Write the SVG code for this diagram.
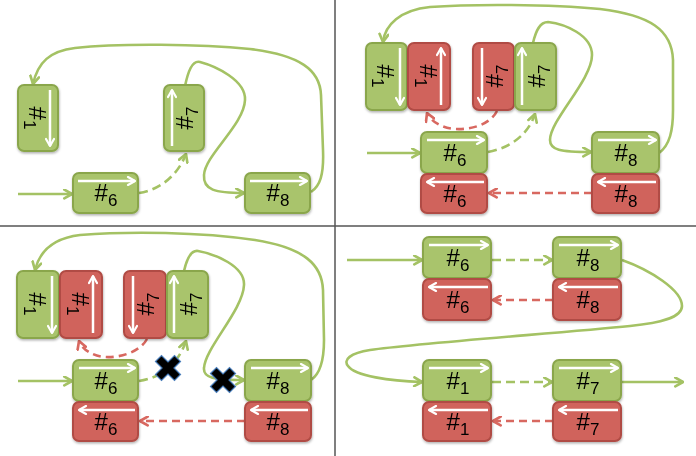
<svg xmlns="http://www.w3.org/2000/svg" width="696" height="456" viewBox="0 0 696 456">
<style>
.g{fill:#a9c46c;stroke:#8aa64c;stroke-width:2}
.r{fill:#d0635b;stroke:#b04b44;stroke-width:2}
.t{font-family:"Liberation Sans",Arial,sans-serif;font-size:24px;fill:#000;text-anchor:middle}
.s{font-size:17px}
.wa{stroke:#fff;stroke-width:2.5;fill:none;marker-end:url(#mw)}
.cg{fill:none;stroke:#a4c264;stroke-width:2.6;marker-end:url(#mg)}
.dg{fill:none;stroke:#a4c264;stroke-width:2.6;stroke-dasharray:9 5;marker-end:url(#mg)}
.dr{fill:none;stroke:#d86860;stroke-width:2.6;stroke-dasharray:8 5;marker-end:url(#mr)}
.box{filter:url(#sh)}
.x{fill:#000;stroke:#4a7ebb;stroke-width:1.2}
</style>
<defs>
<filter id="sh" x="-20%" y="-20%" width="140%" height="150%"><feDropShadow dx="0.5" dy="1.5" stdDeviation="1.2" flood-opacity="0.3"/></filter>
<marker id="mw" viewBox="0 0 10 10" refX="9" refY="5" markerWidth="10" markerHeight="10" markerUnits="userSpaceOnUse" orient="auto"><path d="M2,1 L9,5 L2,9" fill="none" stroke="#fff" stroke-width="2.2" stroke-linecap="round" stroke-linejoin="round"/></marker>
<marker id="mg" viewBox="0 0 10 10" refX="9" refY="5" markerWidth="11" markerHeight="11" markerUnits="userSpaceOnUse" orient="auto"><path d="M2,1 L9,5 L2,9" fill="none" stroke="#a4c264" stroke-width="2.4" stroke-linecap="round" stroke-linejoin="round"/></marker>
<marker id="mr" viewBox="0 0 10 10" refX="9" refY="5" markerWidth="11" markerHeight="11" markerUnits="userSpaceOnUse" orient="auto"><path d="M2,1 L9,5 L2,9" fill="none" stroke="#d86860" stroke-width="2.4" stroke-linecap="round" stroke-linejoin="round"/></marker>
</defs>
<rect width="696" height="456" fill="#fff"/>
<g id="dividers" stroke="#555" stroke-width="1.5">
<line x1="335" y1="0" x2="335" y2="456"/>
<line x1="0" y1="226" x2="696" y2="226"/>
</g>
<g id="connectors">
<!-- Q1 -->
<path class="cg" d="M18,194 H72"/>
<path class="dg" d="M139,193 C160,190 178,175 186,154"/>
<path class="cg" d="M185,86 C188,72 192,60 200,62 C215,66 246,80 245,100 C244,125 205,155 204,175 C203,190 215,193 244,193"/>
<path class="cg" d="M311,192 C320,186 324,175 323,150 L321,95 C320,70 300,55 250,49 C200,44 120,43 75,48 C50,51 38,62 33,84"/>
<!-- Q2 -->
<path class="cg" d="M367,153 H420"/>
<path class="dg" d="M488,152 C510,148 528,135 535,114"/>
<path class="dr" d="M497,111 C490,125 470,130 455,129 C440,128 430,120 427,113"/>
<path class="cg" d="M533,43 C536,30 540,22 548,22 C565,24 592,35 592,55 C592,80 550,120 550,140 C550,150 560,152 591,152"/>
<path class="cg" d="M659,153 C670,145 673,130 673,110 L673,60 C672,30 650,15 600,9 C550,4 470,4 430,7 C400,10 385,25 383,42"/>
<path class="dr" d="M592,193 H489"/>
<!-- Q3 -->
<path class="cg" d="M18,381 H72"/>
<path class="dg" d="M139,381 C160,378 178,365 186,341"/>
<path class="dr" d="M147,339 C140,352 120,358 105,357 C92,356 82,349 79,341"/>
<path class="cg" d="M184,271 C187,258 191,250 198,251 C215,254 245,266 244,285 C243,310 205,348 204,368 C203,378 214,380 244,380"/>
<path class="cg" d="M311,380 C320,374 324,362 324,340 L323,290 C322,265 305,248 255,240 C200,232 130,231 80,235 C55,238 40,250 35,270"/>
<path class="dr" d="M245,421 H140"/>
<!-- Q4 -->
<path class="cg" d="M347,260 H422"/>
<path class="dg" d="M492,260 H552"/>
<path class="dr" d="M553,300 H493"/>
<path class="cg" d="M622,260 C650,270 682,290 682,306 C682,318 660,323 630,326 C560,333 420,343 370,350 C350,353 343,360 348,366 C355,376 390,381 422,382"/>
<path class="dg" d="M492,382 H552"/>
<path class="dr" d="M553,421 H493"/>
<path class="cg" d="M622,382 H683"/>
</g>
<!-- Q1 nodes -->
<g id="q1-n1" class="box"><rect class="g" x="18" y="85" width="40" height="66" rx="6"/><line class="wa" x1="50" y1="90" x2="50" y2="146"/><text class="t" transform="translate(37,118) rotate(90)" x="0" y="8">#<tspan class="s" dy="5">1</tspan></text></g>
<g id="q1-n7" class="box"><rect class="g" x="164" y="85" width="40" height="66" rx="6"/><line class="wa" x1="172" y1="146" x2="172" y2="90"/><text class="t" transform="translate(185,118) rotate(-90)" x="0" y="8">#<tspan class="s" dy="5">7</tspan></text></g>
<g id="q1-n6" class="box"><rect class="g" x="73" y="173" width="65" height="40" rx="6"/><line class="wa" x1="78" y1="181" x2="135" y2="181"/><text class="t" x="106" y="201">#<tspan class="s" dy="5">6</tspan></text></g>
<g id="q1-n8" class="box"><rect class="g" x="245" y="173" width="65" height="40" rx="6"/><line class="wa" x1="250" y1="181" x2="307" y2="181"/><text class="t" x="278" y="201">#<tspan class="s" dy="5">8</tspan></text></g>
<!-- Q2 nodes -->
<g id="q2-g1" class="box"><rect class="g" x="366" y="43" width="41" height="67" rx="6"/><line class="wa" x1="400" y1="48" x2="400" y2="105"/><text class="t" transform="translate(385,76) rotate(90)" x="0" y="8">#<tspan class="s" dy="5">1</tspan></text></g>
<g id="q2-r1" class="box"><rect class="r" x="408" y="43" width="42" height="67" rx="6"/><line class="wa" x1="441" y1="105" x2="441" y2="48"/><text class="t" transform="translate(428,76) rotate(90)" x="0" y="8">#<tspan class="s" dy="5">1</tspan></text></g>
<g id="q2-r7" class="box"><rect class="r" x="473" y="43" width="41" height="67" rx="6"/><line class="wa" x1="482" y1="48" x2="482" y2="105"/><text class="t" transform="translate(495,76) rotate(-90)" x="0" y="8">#<tspan class="s" dy="5">7</tspan></text></g>
<g id="q2-g7" class="box"><rect class="g" x="515" y="43" width="41" height="67" rx="6"/><line class="wa" x1="522" y1="105" x2="522" y2="48"/><text class="t" transform="translate(537,76) rotate(-90)" x="0" y="8">#<tspan class="s" dy="5">7</tspan></text></g>
<g id="q2-g6" class="box"><rect class="g" x="421" y="132" width="66" height="41" rx="6"/><line class="wa" x1="427" y1="140" x2="484" y2="140"/><text class="t" x="455" y="161">#<tspan class="s" dy="5">6</tspan></text></g>
<g id="q2-r6" class="box"><rect class="r" x="421" y="174" width="66" height="39" rx="6"/><line class="wa" x1="484" y1="182" x2="427" y2="182"/><text class="t" x="455" y="202">#<tspan class="s" dy="5">6</tspan></text></g>
<g id="q2-g8" class="box"><rect class="g" x="592" y="132" width="67" height="41" rx="6"/><line class="wa" x1="598" y1="140" x2="656" y2="140"/><text class="t" x="626" y="161">#<tspan class="s" dy="5">8</tspan></text></g>
<g id="q2-r8" class="box"><rect class="r" x="592" y="174" width="67" height="39" rx="6"/><line class="wa" x1="656" y1="182" x2="598" y2="182"/><text class="t" x="626" y="202">#<tspan class="s" dy="5">8</tspan></text></g>
<!-- Q3 nodes -->
<g id="q3-g1" class="box"><rect class="g" x="17" y="271" width="42" height="67" rx="6"/><line class="wa" x1="52" y1="276" x2="52" y2="333"/><text class="t" transform="translate(37,304) rotate(90)" x="0" y="8">#<tspan class="s" dy="5">1</tspan></text></g>
<g id="q3-r1" class="box"><rect class="r" x="60" y="271" width="42" height="67" rx="6"/><line class="wa" x1="93" y1="333" x2="93" y2="276"/><text class="t" transform="translate(80,304) rotate(90)" x="0" y="8">#<tspan class="s" dy="5">1</tspan></text></g>
<g id="q3-r7" class="box"><rect class="r" x="124" y="271" width="42" height="67" rx="6"/><line class="wa" x1="133" y1="276" x2="133" y2="333"/><text class="t" transform="translate(146,304) rotate(-90)" x="0" y="8">#<tspan class="s" dy="5">7</tspan></text></g>
<g id="q3-g7" class="box"><rect class="g" x="167" y="271" width="41" height="67" rx="6"/><line class="wa" x1="174" y1="333" x2="174" y2="276"/><text class="t" transform="translate(189,304) rotate(-90)" x="0" y="8">#<tspan class="s" dy="5">7</tspan></text></g>
<g id="q3-g6" class="box"><rect class="g" x="73" y="360" width="65" height="41" rx="6"/><line class="wa" x1="79" y1="368" x2="135" y2="368"/><text class="t" x="106" y="389">#<tspan class="s" dy="5">6</tspan></text></g>
<g id="q3-r6" class="box"><rect class="r" x="73" y="402" width="65" height="39" rx="6"/><line class="wa" x1="135" y1="410" x2="79" y2="410"/><text class="t" x="106" y="430">#<tspan class="s" dy="5">6</tspan></text></g>
<g id="q3-g8" class="box"><rect class="g" x="245" y="360" width="66" height="41" rx="6"/><line class="wa" x1="251" y1="368" x2="308" y2="368"/><text class="t" x="278" y="389">#<tspan class="s" dy="5">8</tspan></text></g>
<g id="q3-r8" class="box"><rect class="r" x="245" y="402" width="66" height="39" rx="6"/><line class="wa" x1="308" y1="410" x2="251" y2="410"/><text class="t" x="278" y="430">#<tspan class="s" dy="5">8</tspan></text></g>
<g id="q3-cuts">
<polygon class="x" transform="translate(168,368)" points="-12.5,-6.5 -6.5,-12.5 0,-6 6.5,-12.5 12.5,-6.5 6,0 12.5,6.5 6.5,12.5 0,6 -6.5,12.5 -12.5,6.5 -6,0"/>
<polygon class="x" transform="translate(223,380)" points="-12.5,-6.5 -6.5,-12.5 0,-6 6.5,-12.5 12.5,-6.5 6,0 12.5,6.5 6.5,12.5 0,6 -6.5,12.5 -12.5,6.5 -6,0"/>
</g>
<!-- Q4 nodes -->
<g id="q4-g6" class="box"><rect class="g" x="423" y="237" width="68" height="41" rx="6"/><line class="wa" x1="429" y1="245" x2="488" y2="245"/><text class="t" x="458" y="266">#<tspan class="s" dy="5">6</tspan></text></g>
<g id="q4-r6" class="box"><rect class="r" x="423" y="279" width="68" height="41" rx="6"/><line class="wa" x1="488" y1="287" x2="429" y2="287"/><text class="t" x="458" y="308">#<tspan class="s" dy="5">6</tspan></text></g>
<g id="q4-g8" class="box"><rect class="g" x="553" y="237" width="68" height="41" rx="6"/><line class="wa" x1="559" y1="245" x2="618" y2="245"/><text class="t" x="588" y="266">#<tspan class="s" dy="5">8</tspan></text></g>
<g id="q4-r8" class="box"><rect class="r" x="553" y="279" width="68" height="41" rx="6"/><line class="wa" x1="618" y1="287" x2="559" y2="287"/><text class="t" x="588" y="308">#<tspan class="s" dy="5">8</tspan></text></g>
<g id="q4-g1" class="box"><rect class="g" x="423" y="360" width="68" height="41" rx="6"/><line class="wa" x1="429" y1="368" x2="488" y2="368"/><text class="t" x="458" y="389">#<tspan class="s" dy="5">1</tspan></text></g>
<g id="q4-r1" class="box"><rect class="r" x="423" y="402" width="68" height="39" rx="6"/><line class="wa" x1="488" y1="410" x2="429" y2="410"/><text class="t" x="458" y="430">#<tspan class="s" dy="5">1</tspan></text></g>
<g id="q4-g7" class="box"><rect class="g" x="553" y="360" width="68" height="41" rx="6"/><line class="wa" x1="559" y1="368" x2="618" y2="368"/><text class="t" x="588" y="389">#<tspan class="s" dy="5">7</tspan></text></g>
<g id="q4-r7" class="box"><rect class="r" x="553" y="402" width="68" height="39" rx="6"/><line class="wa" x1="618" y1="410" x2="559" y2="410"/><text class="t" x="588" y="430">#<tspan class="s" dy="5">7</tspan></text></g>
</svg>
